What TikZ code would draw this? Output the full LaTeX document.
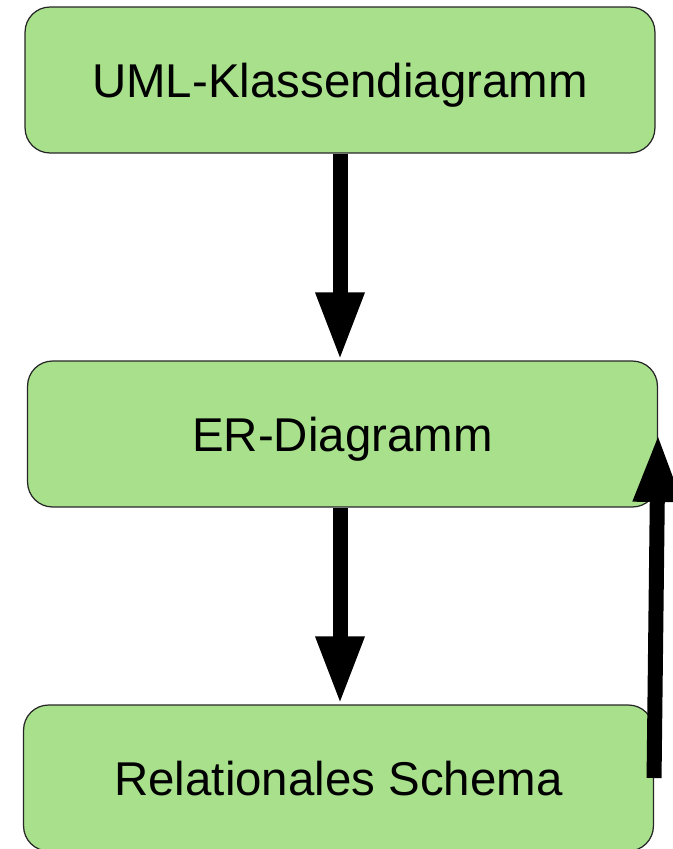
\documentclass[tikz,border=0pt]{standalone}
\usepackage{fontspec}
\setmainfont{Liberation Sans}
\usetikzlibrary{arrows.meta}
\definecolor{boxgreen}{HTML}{A8E08C}
\tikzset{
  stage/.style={draw=black!85, line width=0.7pt, fill=boxgreen, rounded corners=0.5cm,
    minimum width=12.6cm, minimum height=2.92cm, inner sep=0pt, text depth=0pt,
    font=\fontsize{27}{32}\selectfont},
  flow/.style={line width=0.3cm, -{Triangle[width=0.9cm,length=1.36cm]}}
}
\begin{document}
\begin{tikzpicture}[x=0.02cm,y=-0.02cm]
                \useasboundingbox (0,0) rectangle (673,849);
                \node[stage] (uml) at (340,80) {UML-Klassendiagramm};
                \node[stage] (er) at (342.5,434) {ER-Diagramm};
                \node[stage] (rel) at (338.5,778) {Relationales Schema};
                \draw[flow] (uml.south) -- (uml.south |- er.north);
                \draw[flow] (er.south -| uml.south) -- (uml.south |- rel.north);
                \draw[flow] (rel.east) -- (er.east);
            \end{tikzpicture}
\end{document}
